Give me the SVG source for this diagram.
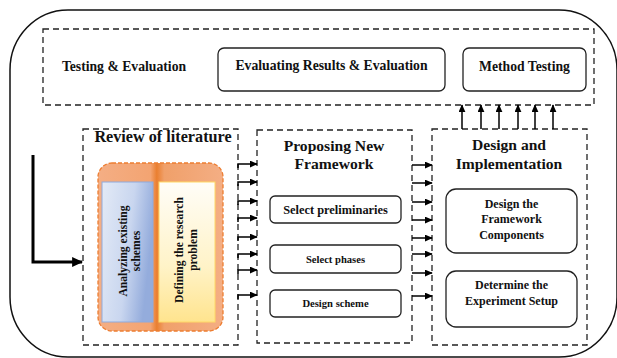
<svg xmlns="http://www.w3.org/2000/svg" width="617" height="358" viewBox="0 0 617 358">
<defs>
<style>
text{font-family:"Liberation Serif","Times New Roman",serif;font-weight:bold;fill:#111;text-anchor:middle}
.dash{fill:none;stroke:#222;stroke-width:1.3;stroke-dasharray:6 4}
.box{fill:#fff;stroke:#222;stroke-width:1.3}
.t13{font-size:13.7px}
.t12{font-size:12px}
.t11r{font-size:11.6px}
.t12p{font-size:12.4px}
.t10{font-size:10.6px}
.t15{font-size:15.6px}
.t16{font-size:16.2px}
.conn path{fill:none;stroke:#000;stroke-width:1.5}
.conn path.big{stroke-width:3}
</style>
<marker id="ahs" viewBox="0 0 10 10" refX="9" refY="5" markerWidth="8" markerHeight="7" orient="auto" markerUnits="userSpaceOnUse" preserveAspectRatio="none"><path d="M0,0 L10,5 L0,10 z" fill="#000"/></marker>
<marker id="ahb" viewBox="0 0 10 10" refX="9" refY="5" markerWidth="11" markerHeight="10" orient="auto" markerUnits="userSpaceOnUse" preserveAspectRatio="none"><path d="M0,0 L10,5 L0,10 z" fill="#000"/></marker>
<linearGradient id="og" x1="0" y1="0" x2="1" y2="0">
<stop offset="0" stop-color="#f4ae84"/><stop offset="0.42" stop-color="#f3a472"/><stop offset="0.47" stop-color="#ea7f30"/><stop offset="0.53" stop-color="#f0a06a"/><stop offset="1" stop-color="#f4ae84"/>
</linearGradient>
<linearGradient id="bg" x1="0" y1="0" x2="1" y2="0.3">
<stop offset="0" stop-color="#e3eaf6"/><stop offset="0.6" stop-color="#c9d6ef"/><stop offset="1" stop-color="#94acdc"/>
</linearGradient>
<linearGradient id="yg" x1="0" y1="0" x2="0" y2="1">
<stop offset="0" stop-color="#fffdf8"/><stop offset="0.6" stop-color="#fff3c8"/><stop offset="1" stop-color="#ffe48e"/>
</linearGradient>
</defs>

<g id="outer"><rect x="10" y="10" width="607" height="347" rx="58" ry="60" fill="none" stroke="#111" stroke-width="1.5"/></g>

<g id="testing-evaluation">
<rect class="dash" x="43" y="29" width="551" height="76"/>
<text class="t13" x="124" y="71">Testing &amp; Evaluation</text>
</g>
<g id="evaluating-results">
<rect class="box" x="218" y="48" width="227" height="43" rx="6"/>
<text class="t13" x="331.5" y="70">Evaluating Results &amp; Evaluation</text>
</g>
<g id="method-testing">
<rect class="box" x="463" y="48" width="123" height="43" rx="6"/>
<text class="t13" x="524.5" y="71">Method Testing</text>
</g>

<g id="review-literature">
<rect class="dash" x="83" y="129" width="155" height="216"/>
<text class="t16" x="163" y="142">Review of literature</text>
<rect x="98" y="163" width="125" height="168" rx="14" fill="url(#og)" stroke="#ed7d31" stroke-width="1.3" stroke-dasharray="4 2"/>
</g>
<g id="analyzing-schemes">
<rect x="102" y="182" width="51" height="140" fill="url(#bg)" stroke="#8faadc" stroke-width="1"/>
<text class="t11r" transform="translate(127,251) rotate(-90)">Analyzing existing</text>
<text class="t11r" transform="translate(140,251) rotate(-90)">schemes</text>
</g>
<g id="defining-problem">
<rect x="159" y="182" width="56" height="140" fill="url(#yg)" stroke="#ffd966" stroke-width="1"/>
<text class="t11r" transform="translate(183,250) rotate(-90)">Defining the research</text>
<text class="t11r" transform="translate(197,250) rotate(-90)">problem</text>
</g>

<g id="proposing-framework">
<rect class="dash" x="257" y="130" width="155" height="213"/>
<text class="t15" x="334" y="151">Proposing New</text>
<text class="t15" x="334" y="169">Framework</text>
</g>
<g id="select-preliminaries">
<rect class="box" x="270" y="196" width="131" height="27" rx="5"/>
<text class="t12p" x="335.5" y="214">Select preliminaries</text>
</g>
<g id="select-phases">
<rect class="box" x="270" y="245" width="131" height="28" rx="5"/>
<text class="t10" x="335.5" y="263">Select phases</text>
</g>
<g id="design-scheme">
<rect class="box" x="270" y="290" width="131" height="27" rx="5"/>
<text class="t10" x="335.5" y="307">Design scheme</text>
</g>

<g id="design-implementation">
<rect class="dash" x="432" y="129" width="155" height="216"/>
<text class="t15" x="509" y="150">Design and</text>
<text class="t15" x="509" y="169">Implementation</text>
</g>
<g id="framework-components">
<rect class="box" x="446" y="189" width="131" height="64" rx="10"/>
<text class="t12" x="511.5" y="208">Design the</text>
<text class="t12" x="511.5" y="223">Framework</text>
<text class="t12" x="511.5" y="239">Components</text>
</g>
<g id="experiment-setup">
<rect class="box" x="446" y="271" width="131" height="56" rx="10"/>
<text class="t12" x="511.5" y="289">Determine the</text>
<text class="t12" x="511.5" y="305">Experiment Setup</text>
</g>

<g id="connectors" class="conn">
<path class="big" d="M33,155 V262 H82" marker-end="url(#ahb)"/>
<path d="M238,168 V164 H257" marker-end="url(#ahs)"/>
<path d="M238,186 V182 H257" marker-end="url(#ahs)"/>
<path d="M238,205 V201 H257" marker-end="url(#ahs)"/>
<path d="M238,222 V218 H257" marker-end="url(#ahs)"/>
<path d="M238,241 V237 H257" marker-end="url(#ahs)"/>
<path d="M238,258 V254 H257" marker-end="url(#ahs)"/>
<path d="M238,274 V270 H257" marker-end="url(#ahs)"/>
<path d="M238,299 V295 H257" marker-end="url(#ahs)"/>
<path d="M412,165 H432" marker-end="url(#ahs)"/>
<path d="M412,183 H432" marker-end="url(#ahs)"/>
<path d="M412,202 H432" marker-end="url(#ahs)"/>
<path d="M412,220 H432" marker-end="url(#ahs)"/>
<path d="M412,238 H432" marker-end="url(#ahs)"/>
<path d="M412,254 H432" marker-end="url(#ahs)"/>
<path d="M412,273 H432" marker-end="url(#ahs)"/>
<path d="M412,296 H432" marker-end="url(#ahs)"/>
<path d="M462,129 V105" marker-end="url(#ahs)"/>
<path d="M481,129 V105" marker-end="url(#ahs)"/>
<path d="M499,129 V105" marker-end="url(#ahs)"/>
<path d="M518,129 V105" marker-end="url(#ahs)"/>
<path d="M535,129 V105" marker-end="url(#ahs)"/>
<path d="M553,129 V105" marker-end="url(#ahs)"/>
</g>
</svg>
